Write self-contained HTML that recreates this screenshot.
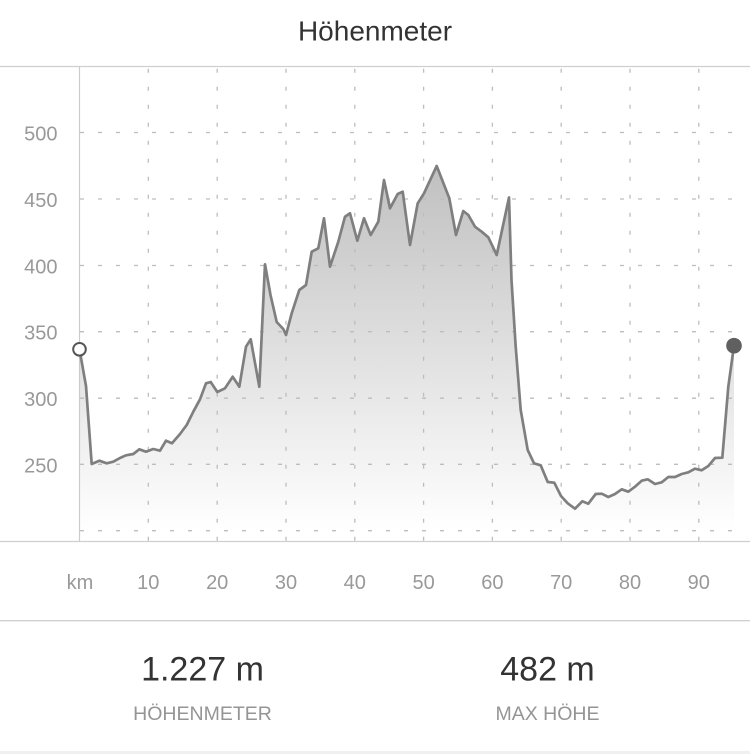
<!DOCTYPE html>
<html><head><meta charset="utf-8"><style>
html,body{margin:0;padding:0;background:#fff;}
svg{display:block;}
text{font-family:"Liberation Sans",Arial,sans-serif;}
</style></head><body>
<svg width="750" height="754" viewBox="0 0 750 754" xmlns="http://www.w3.org/2000/svg">
<defs>
<linearGradient id="g" gradientUnits="userSpaceOnUse" x1="0" y1="166" x2="0" y2="531">
<stop offset="0" stop-color="#c0c0c0"/>
<stop offset="1" stop-color="#ffffff"/>
</linearGradient>
</defs>
<rect width="750" height="754" fill="#fff"/>
<text x="375" y="40.5" font-size="28" fill="#333" text-anchor="middle">Höhenmeter</text>
<line x1="0" y1="66.5" x2="750" y2="66.5" stroke="#cfcfcf" stroke-width="1.3"/>
<line x1="0" y1="541.5" x2="750" y2="541.5" stroke="#cfcfcf" stroke-width="1.3"/>

<polygon fill="url(#g)" points="79.5,531 79.5,349.3 86,386 91.7,464 99.3,460.7 106.7,463.3 113.3,461.7 120,458 126,455.3 133.3,454 139.3,449.3 146,451.7 153.3,449 160,450.7 166,440.7 172,443.3 180,434 186.7,425 193.3,411.7 200,399.3 206,383.3 210.7,382 217.3,392 225,388.3 232.7,376.7 239.3,386.7 246,346.7 250.7,339.3 259.3,386.7 265,264.3 270.5,295 276.7,322 283.3,329 286,335 291.7,313.3 299.3,290 306,285 311.7,251.7 318.3,248.3 324,218.3 330,266.7 338.3,241.7 345,216.7 350,213.3 357.3,240.7 364,218.3 370.7,235 378.3,221.7 384,180 390,208.3 397.7,194 402.7,191.7 410,245 417.7,203.3 424,193.3 436.7,166 449.3,198.3 456,235 463.3,211 468.3,215 475,226.7 481.7,231.7 488.3,237.3 496.7,255 509,197.5 511.5,280 515.7,346.7 520.7,410 527.7,450 534,463.3 540.7,465.3 547.7,482 554.3,482.7 561,496 567.7,503.3 575,508.7 582.3,501.3 588.3,503.7 595.7,494 601.7,493.7 608.3,497 615,494 621.7,489.3 628.3,491.7 635,486.7 641.7,480.7 647.7,479.3 655,484 661.7,482.3 668.3,477 675,477 681.7,474 688.3,472.3 695,468.7 701.7,470.3 708.3,466 715,458 722.3,457.7 728.3,386.7 734,345.7 734,531"/>

<g stroke="#bdbdbd" stroke-width="1.3" stroke-dasharray="4 14" fill="none">
<line x1="80" y1="132.5" x2="733" y2="132.5"/>
<line x1="80" y1="199" x2="733" y2="199"/>
<line x1="80" y1="265.5" x2="733" y2="265.5"/>
<line x1="80" y1="331.7" x2="733" y2="331.7"/>
<line x1="80" y1="398.2" x2="733" y2="398.2"/>
<line x1="80" y1="464.3" x2="733" y2="464.3"/>
<line x1="80" y1="530.7" x2="733" y2="530.7"/>
<line x1="148.3" y1="68.7" x2="148.3" y2="541"/>
<line x1="217.2" y1="68.7" x2="217.2" y2="541"/>
<line x1="286" y1="68.7" x2="286" y2="541"/>
<line x1="354.8" y1="68.7" x2="354.8" y2="541"/>
<line x1="423.6" y1="68.7" x2="423.6" y2="541"/>
<line x1="492.4" y1="68.7" x2="492.4" y2="541"/>
<line x1="561.2" y1="68.7" x2="561.2" y2="541"/>
<line x1="630" y1="68.7" x2="630" y2="541"/>
<line x1="698.8" y1="68.7" x2="698.8" y2="541"/>
</g>
<line x1="79.5" y1="67" x2="79.5" y2="541" stroke="#cccccc" stroke-width="1.2"/>

<polyline fill="none" stroke="#7f7f7f" stroke-width="2.7" stroke-linejoin="round" stroke-linecap="round" points="79.5,349.3 86,386 91.7,464 99.3,460.7 106.7,463.3 113.3,461.7 120,458 126,455.3 133.3,454 139.3,449.3 146,451.7 153.3,449 160,450.7 166,440.7 172,443.3 180,434 186.7,425 193.3,411.7 200,399.3 206,383.3 210.7,382 217.3,392 225,388.3 232.7,376.7 239.3,386.7 246,346.7 250.7,339.3 259.3,386.7 265,264.3 270.5,295 276.7,322 283.3,329 286,335 291.7,313.3 299.3,290 306,285 311.7,251.7 318.3,248.3 324,218.3 330,266.7 338.3,241.7 345,216.7 350,213.3 357.3,240.7 364,218.3 370.7,235 378.3,221.7 384,180 390,208.3 397.7,194 402.7,191.7 410,245 417.7,203.3 424,193.3 436.7,166 449.3,198.3 456,235 463.3,211 468.3,215 475,226.7 481.7,231.7 488.3,237.3 496.7,255 509,197.5 511.5,280 515.7,346.7 520.7,410 527.7,450 534,463.3 540.7,465.3 547.7,482 554.3,482.7 561,496 567.7,503.3 575,508.7 582.3,501.3 588.3,503.7 595.7,494 601.7,493.7 608.3,497 615,494 621.7,489.3 628.3,491.7 635,486.7 641.7,480.7 647.7,479.3 655,484 661.7,482.3 668.3,477 675,477 681.7,474 688.3,472.3 695,468.7 701.7,470.3 708.3,466 715,458 722.3,457.7 728.3,386.7 734,345.7"/>

<circle cx="79.5" cy="349.3" r="6.3" fill="#fff" stroke="#555" stroke-width="2"/>
<circle cx="734" cy="345.7" r="7.8" fill="#606060"/>

<g font-size="20" fill="#999" text-anchor="end">
<text x="57.5" y="140.5">500</text>
<text x="57.5" y="207">450</text>
<text x="57.5" y="273.5">400</text>
<text x="57.5" y="339.7">350</text>
<text x="57.5" y="406.2">300</text>
<text x="57.5" y="472.3">250</text>
</g>
<g font-size="20" fill="#999" text-anchor="middle">
<text x="80" y="589">km</text>
<text x="148.3" y="589">10</text>
<text x="217.2" y="589">20</text>
<text x="286" y="589">30</text>
<text x="354.8" y="589">40</text>
<text x="423.6" y="589">50</text>
<text x="492.4" y="589">60</text>
<text x="561.2" y="589">70</text>
<text x="630" y="589">80</text>
<text x="698.8" y="589">90</text>
</g>

<line x1="0" y1="620.7" x2="750" y2="620.7" stroke="#d0d0d0" stroke-width="1.3"/>
<text x="202.5" y="680.7" font-size="34" fill="#333" text-anchor="middle">1.227 m</text>
<text x="202.5" y="720" font-size="19.5" fill="#959595" text-anchor="middle">HÖHENMETER</text>
<text x="547.5" y="680.7" font-size="34" fill="#333" text-anchor="middle">482 m</text>
<text x="547.5" y="720" font-size="19.5" fill="#959595" text-anchor="middle">MAX HÖHE</text>
<rect x="0" y="751" width="750" height="3" fill="#f0f0f0"/>
</svg>
</body></html>
